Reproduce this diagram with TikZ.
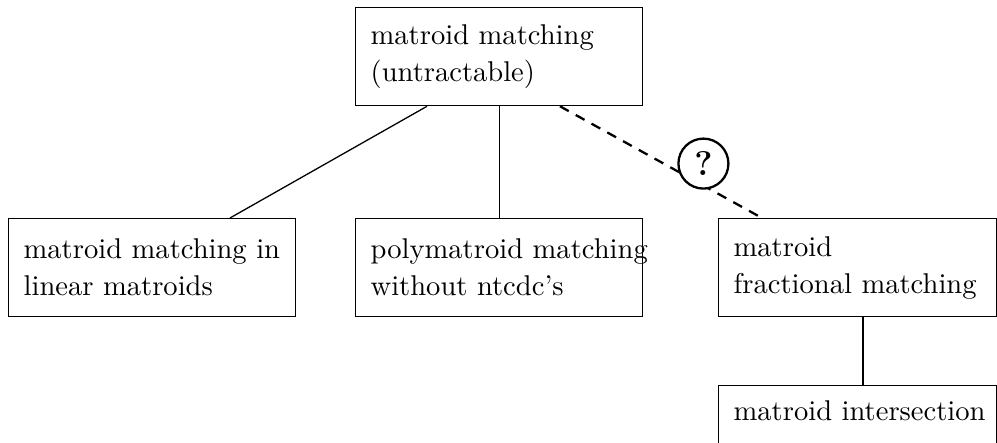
\documentclass[tikz,border=0pt]{standalone}
\usetikzlibrary{calc}
\begin{document}
\begin{tikzpicture}[x=0.35pt,y=-0.35pt,
  probbox/.style={draw, rectangle, anchor=north west, line width=0.45pt,
    minimum width=100.45pt, minimum height=34.3pt, inner xsep=5.25pt,
    text width=89.95pt, align=left, font=\fontsize{10}{13}\selectfont},
  narrowbox/.style={probbox, minimum width=97.3pt, text width=86.8pt},
  link/.style={line width=0.45pt},
  openlink/.style={line width=0.8pt, dash pattern=on 3.5pt off 2.8pt},
  qmark/.style={draw, solid, circle, line width=0.8pt, fill=white, inner sep=0pt,
    minimum size=17.5pt, font=\large\bfseries}]
  \useasboundingbox (0,0) rectangle (997,443);
  \clip (0,0) rectangle (997,443);

  % problem boxes
  \node[probbox] (top) at (355,7) {\mbox{matroid matching}\\\mbox{(untractable)}};
  \node[probbox] (left) at (8,218) {\mbox{matroid matching in}\\\mbox{linear matroids}};
  \node[probbox] (mid) at (355,218) {\mbox{polymatroid matching}\\\mbox{without ntcdc's}};
  \node[narrowbox] (right) at (718,218) {\mbox{matroid}\\\mbox{fractional matching}};
  \node[narrowbox] (bot) at (718,385) {\mbox{matroid intersection}\\\strut};

  % relations
  \draw[link] ($(top.south west)+(72,0)$) -- ($(left.north west)+(222,0)$);
  \draw[link] (top.south) -- (mid.north);
  \draw[openlink] ($(top.south west)+(205,0)$) -- node[qmark, pos=0.71, yshift=7.7pt] (q) {?} ($(right.north west)+(44,0)$);
  \draw[link] ($(right.south west)+(145,0)$) -- ($(bot.north west)+(145,0)$);
\end{tikzpicture}
\end{document}
